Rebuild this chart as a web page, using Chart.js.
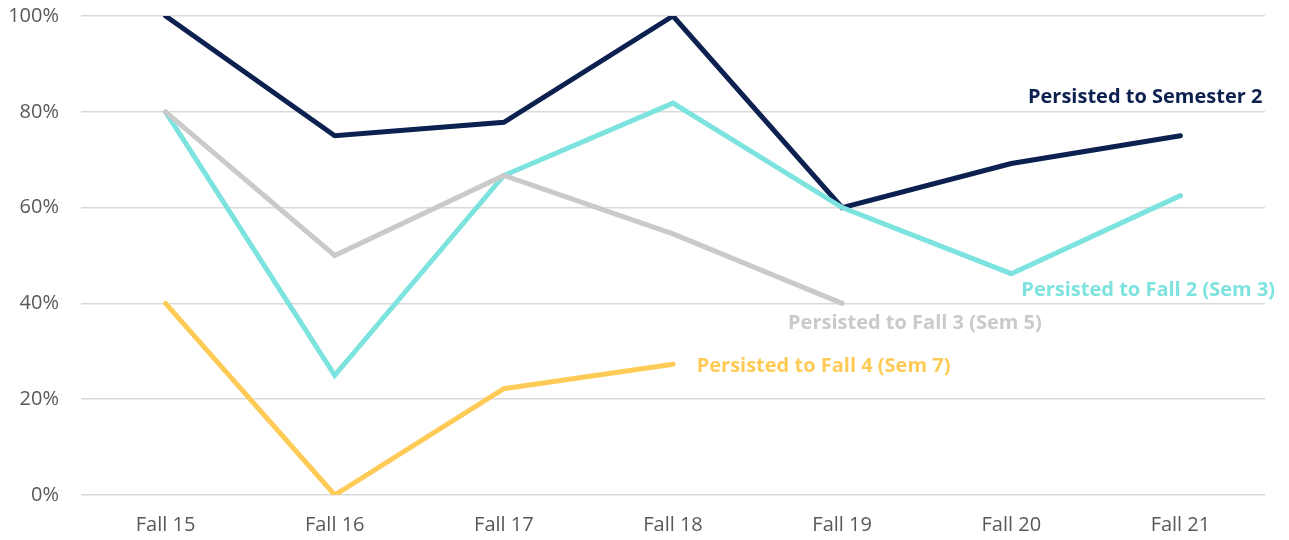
<!DOCTYPE html>
<html>
<head>
<meta charset="utf-8">
<script src="https://cdn.jsdelivr.net/npm/chart.js@4/dist/chart.umd.min.js"></script>
<style>
    html, body { margin: 0; padding: 0; background: #fff; }
    #wrap { width: 1289px; height: 540px; }
</style>
</head>
<body>
<div id="wrap"><canvas id="persistence-chart"></canvas></div>
<script>
// Data ------------------------------------------------------------
const cohorts = ["Fall 15", "Fall 16", "Fall 17", "Fall 18", "Fall 19", "Fall 20", "Fall 21"];
const y_ticks = [0, 20, 40, 60, 80, 100];

const semester2 = [100, 75, 77.8, 100, 60, 69.2, 75];
const fall2 = [80, 25, 66.7, 81.8, 60, 46.2, 62.5];
const fall3 = [80, 50, 66.7, 54.5, 40, null, null];
const fall4 = [40, 0, 22.2, 27.3, null, null, null];

const series_names = [
    "Persisted to Semester 2",
    "Persisted to Fall 2 (Sem 3)",
    "Persisted to Fall 3 (Sem 5)",
    "Persisted to Fall 4 (Sem 7)"
];

// Styles ----------------------------------------------------------
const colors = ["#0d2150", "#7de3de", "#cacaca", "#ffcb57"];
// where each series name sits, in axis units: [category position, value, alignment]
const label_places = [
    [6.485, 83.1, "right"],
    [6.56, 42.8, "right"],
    [3.68, 35.9, "left"],
    [3.14, 26.9, "left"]
];

const FONT = "'Open Sans', Lato, sans-serif";

const seriesLabels = {
    id: "seriesLabels",
    afterDatasetsDraw(chart) {
        const ctx = chart.ctx;
        const xs = chart.scales.x;
        const ys = chart.scales.y;
        const step = xs.getPixelForValue(1) - xs.getPixelForValue(0);
        ctx.save();
        ctx.font = "bold 20px " + FONT;
        ctx.textBaseline = "middle";
        series_names.forEach((name, i) => {
            const place = label_places[i];
            const px = xs.getPixelForValue(0) + place[0] * step;
            const py = ys.getPixelForValue(place[1]);
            ctx.fillStyle = colors[i];
            ctx.textAlign = place[2];
            ctx.fillText(name, px, py);
        });
        ctx.restore();
    }
};

function makeSet(label, data, color) {
    return {
        label: label,
        data: data,
        borderColor: color,
        backgroundColor: color,
        borderWidth: 5,
        borderCapStyle: "round",
        borderJoinStyle: "miter",
        pointRadius: 0,
        pointHoverRadius: 0,
        tension: 0,
        spanGaps: false
    };
}

window.addEventListener("load", () => {
    const ctx = document.getElementById("persistence-chart");

    new Chart(ctx, {
        type: "line",
        data: {
            labels: cohorts,
            datasets: [
                makeSet(series_names[3], fall4, colors[3]),
                makeSet(series_names[2], fall3, colors[2]),
                makeSet(series_names[1], fall2, colors[1]),
                makeSet(series_names[0], semester2, colors[0])
            ]
        },
        options: {
            responsive: true,
            maintainAspectRatio: false,
            animation: false,
            layout: { padding: { top: 0, right: 24, left: 0, bottom: 0 } },
            plugins: {
                legend: { display: false },
                tooltip: { enabled: false }
            },
            scales: {
                x: {
                    offset: true,
                    grid: { display: false },
                    border: { display: false },
                    ticks: {
                        color: "#595959",
                        font: { family: FONT, size: 20 },
                        padding: 10,
                        maxRotation: 0
                    },
                    afterFit: (scale) => { scale.height = 45; }
                },
                y: {
                    min: 0,
                    max: 100,
                    afterBuildTicks: (scale) => {
                        scale.ticks = y_ticks.map(v => ({ value: v }));
                    },
                    grid: {
                        color: "#d9d9d9",
                        lineWidth: 1.5,
                        drawTicks: false
                    },
                    border: { display: false },
                    ticks: {
                        color: "#595959",
                        font: { family: FONT, size: 20 },
                        padding: 22,
                        callback: (v) => v + "%"
                    },
                    afterFit: (scale) => {
                        scale.width = 81;
                        scale.paddingTop = 16;
                        scale.paddingBottom = 0;
                    }
                }
            }
        },
        plugins: [seriesLabels]
    });
});
</script>
</body>
</html>
